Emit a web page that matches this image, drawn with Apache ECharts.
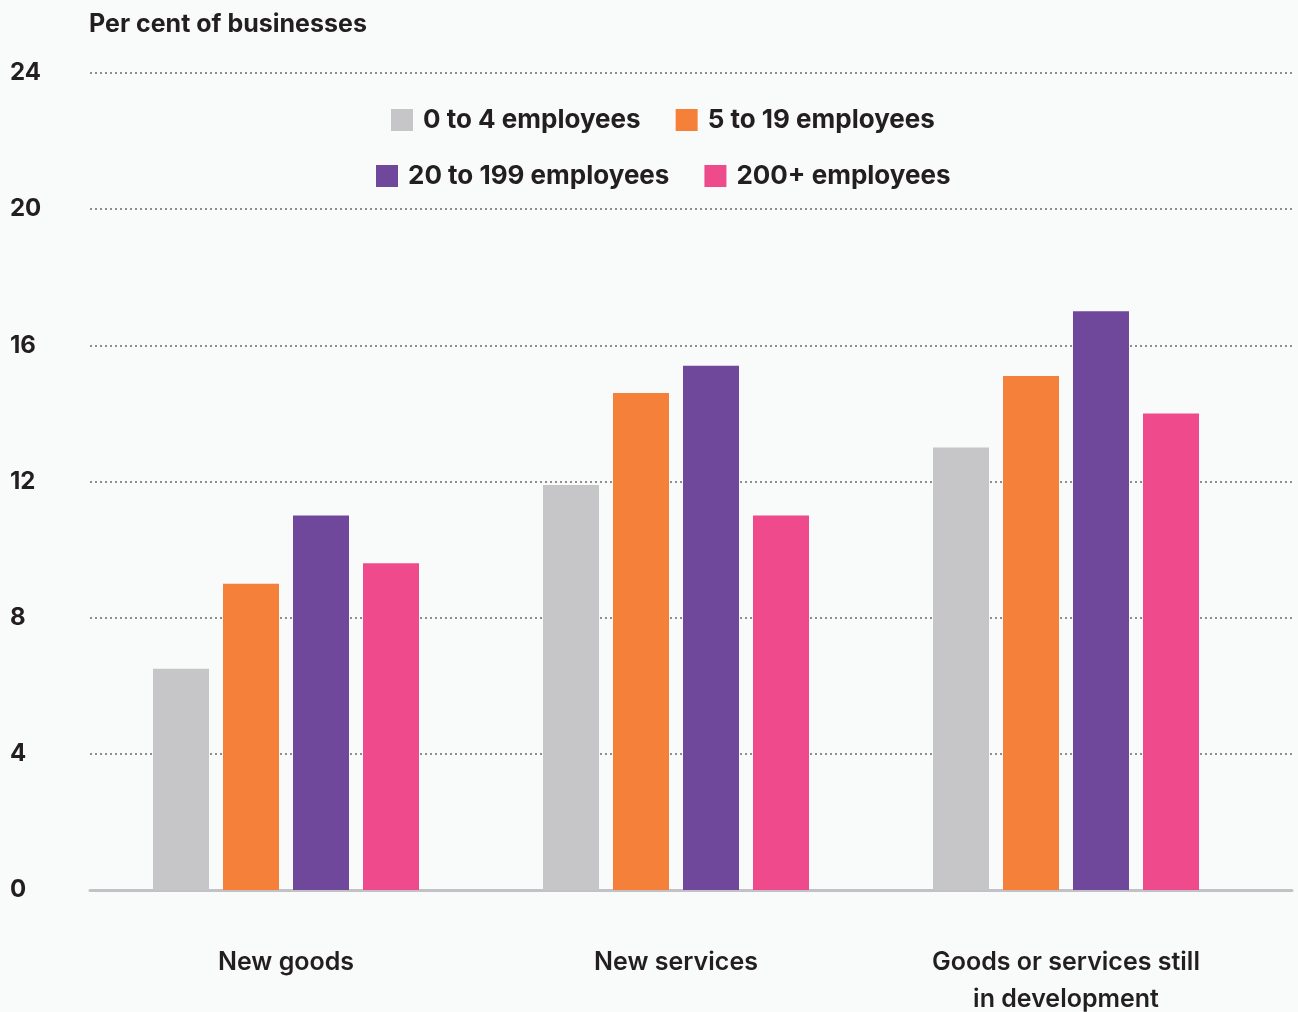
<!DOCTYPE html>
<html>
<head>
<meta charset="utf-8">
<script src="https://cdn.jsdelivr.net/npm/echarts@6/dist/echarts.min.js"></script>
<style>
  html, body { margin: 0; padding: 0; background: #f9fafa; }
  #chart-container { width: 1298px; height: 1012px; }
</style>
</head>
<body>
<div id="chart-container"></div>
<script>
const categories = ['New goods', 'New services', 'Goods or services still\nin development']
const seriesNames = ['0 to 4 employees', '5 to 19 employees', '20 to 199 employees', '200+ employees']
const small = [6.5, 11.9, 13.0]
const medium = [9.0, 14.6, 15.1]
const large = [11.0, 15.4, 17.0]
const veryLarge = [9.6, 11.0, 14.0]
const yTicks = [0, 4, 8, 12, 16, 20, 24]

const colors = ['#c6c6c8', '#f4803a', '#6f479b', '#ef4a8b']
const textColor = '#231f20'
const font = 'Inter'

const createChart = () => {
    var dom = document.getElementById('chart-container');
    var myChart = echarts.init(dom, null, { renderer: 'canvas' });

    let values = [small, medium, large, veryLarge]
    let series = values.map((arr, i) => ({
        name: seriesNames[i],
        type: 'bar',
        xAxisIndex: 1,
        yAxisIndex: 1,
        data: arr,
        barWidth: 56,
        barGap: '25%',
        itemStyle: { color: colors[i] },
        emphasis: { disabled: true }
    }))

    let legendText = { fontFamily: font, fontSize: 26, fontWeight: 'bold', color: textColor, padding: [0, 0, 0, 5] }

    var option = {
        backgroundColor: '#f9fafa',
        animation: false,
        title: {
            text: 'Per cent of businesses',
            left: 84,
            top: 7,
            textStyle: { fontFamily: font, fontSize: 25, fontWeight: 'bold', color: textColor }
        },
        legend: [
            {
                data: seriesNames.slice(0, 2),
                left: 386,
                top: 102,
                itemWidth: 22,
                itemHeight: 22,
                itemGap: 35,
                icon: 'rect',
                textStyle: legendText
            },
            {
                data: seriesNames.slice(2),
                left: 371,
                top: 158,
                itemWidth: 22,
                itemHeight: 22,
                itemGap: 35,
                icon: 'rect',
                textStyle: legendText
            }
        ],
        grid: [
            { left: 90, right: 6, top: 73, bottom: 122, outerBoundsMode: 'none' },
            { left: 91, width: 1170, top: 73, bottom: 122, outerBoundsMode: 'none' }
        ],
        xAxis: [
            {
                type: 'value',
                gridIndex: 0,
                min: 0,
                max: 1,
                axisLine: { show: true, onZero: false, lineStyle: { color: '#c2c2c6', width: 3 } },
                axisTick: { show: false },
                axisLabel: { show: false },
                splitLine: { show: false }
            },
            {
                type: 'category',
                gridIndex: 1,
                data: categories,
                axisLine: { show: false },
                axisTick: { show: false },
                axisLabel: {
                    margin: 54,
                    fontFamily: font,
                    fontSize: 25,
                    fontWeight: 600,
                    color: textColor,
                    lineHeight: 37
                }
            }
        ],
        yAxis: [
            {
                type: 'value',
                gridIndex: 0,
                min: yTicks[0],
                max: yTicks[yTicks.length - 1],
                interval: 4,
                axisLine: { show: false },
                axisTick: { show: false },
                axisLabel: {
                    align: 'left',
                    margin: 80,
                    fontFamily: font,
                    fontSize: 24,
                    fontWeight: 'bold',
                    color: textColor
                },
                splitLine: { lineStyle: { color: '#8e8e8e', type: [2, 3], width: 2 } }
            },
            {
                type: 'value',
                gridIndex: 1,
                min: 0,
                max: 24,
                show: false
            }
        ],
        series: series
    };
    myChart.setOption(option);
}

createChart()
</script>
</body>
</html>
